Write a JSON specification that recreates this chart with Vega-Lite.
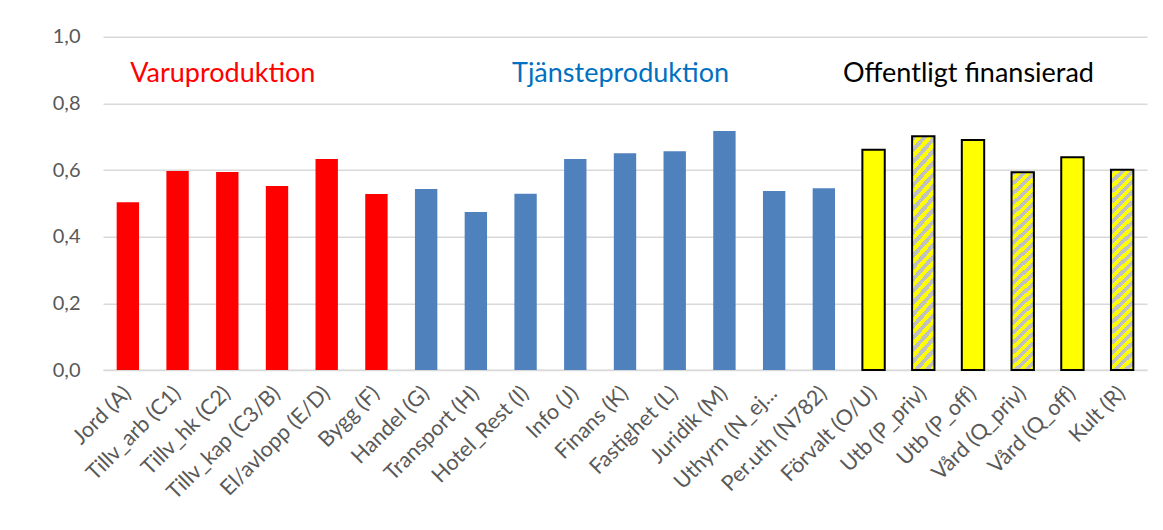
{
  "$schema": "https://vega.github.io/schema/vega-lite/v6.json",
  "autosize": {"type": "none"},
  "width": 1044,
  "height": 333.3,
  "padding": {"left": 103, "top": 36.7, "right": 16, "bottom": 160},
  "background": "white",
  "config": {
    "font": "Lato",
    "view": {"stroke": null}
  },
  "datasets": {
    "sektorer": [
      {"sektor": "Jord (A)", "kvot": 0.503, "grupp": "Varuproduktion", "drift": "blandad"},
      {"sektor": "Tillv_arb (C1)", "kvot": 0.597, "grupp": "Varuproduktion", "drift": "blandad"},
      {"sektor": "Tillv_hk (C2)", "kvot": 0.594, "grupp": "Varuproduktion", "drift": "blandad"},
      {"sektor": "Tillv_kap (C3/B)", "kvot": 0.552, "grupp": "Varuproduktion", "drift": "blandad"},
      {"sektor": "El/avlopp (E/D)", "kvot": 0.633, "grupp": "Varuproduktion", "drift": "blandad"},
      {"sektor": "Bygg (F)", "kvot": 0.528, "grupp": "Varuproduktion", "drift": "blandad"},
      {"sektor": "Handel (G)", "kvot": 0.543, "grupp": "Tjänsteproduktion", "drift": "blandad"},
      {"sektor": "Transport (H)", "kvot": 0.474, "grupp": "Tjänsteproduktion", "drift": "blandad"},
      {"sektor": "Hotel_Rest (I)", "kvot": 0.529, "grupp": "Tjänsteproduktion", "drift": "blandad"},
      {"sektor": "Info (J)", "kvot": 0.633, "grupp": "Tjänsteproduktion", "drift": "blandad"},
      {"sektor": "Finans (K)", "kvot": 0.650, "grupp": "Tjänsteproduktion", "drift": "blandad"},
      {"sektor": "Fastighet (L)", "kvot": 0.656, "grupp": "Tjänsteproduktion", "drift": "blandad"},
      {"sektor": "Juridik (M)", "kvot": 0.717, "grupp": "Tjänsteproduktion", "drift": "blandad"},
      {"sektor": "Uthyrn (N_ej...", "kvot": 0.537, "grupp": "Tjänsteproduktion", "drift": "blandad"},
      {"sektor": "Per.uth (N782)", "kvot": 0.545, "grupp": "Tjänsteproduktion", "drift": "blandad"},
      {"sektor": "Förvalt (O/U)", "kvot": 0.661, "grupp": "Offentligt finansierad", "drift": "offentlig"},
      {"sektor": "Utb (P_priv)", "kvot": 0.701, "grupp": "Offentligt finansierad", "drift": "privat"},
      {"sektor": "Utb (P_off)", "kvot": 0.690, "grupp": "Offentligt finansierad", "drift": "offentlig"},
      {"sektor": "Vård (Q_priv)", "kvot": 0.593, "grupp": "Offentligt finansierad", "drift": "privat"},
      {"sektor": "Vård (Q_off)", "kvot": 0.638, "grupp": "Offentligt finansierad", "drift": "offentlig"},
      {"sektor": "Kult (R)", "kvot": 0.601, "grupp": "Offentligt finansierad", "drift": "privat"}
    ],
    "rubriker": [
      {"grupp": "Varuproduktion", "ankare": "Tillv_hk (C2)"},
      {"grupp": "Tjänsteproduktion", "ankare": "Finans (K)"},
      {"grupp": "Offentligt finansierad", "ankare": "Utb (P_off)"}
    ]
  },
  "encoding": {
    "x": {
      "field": "sektor",
      "type": "nominal",
      "sort": null,
      "scale": {"paddingInner": 0.55, "paddingOuter": 0.275},
      "axis": {
        "title": null,
        "labelAngle": -45,
        "labelAlign": "right",
        "labelBaseline": "middle",
        "labelFontSize": 21.5,
        "labelColor": "#595959",
        "labelPadding": 20,
        "labelLimit": 300,
        "ticks": false,
        "domainColor": "#D9D9D9",
        "domainWidth": 1.5
      }
    }
  },
  "layer": [
    {
      "data": {"name": "sektorer"},
      "mark": {"type": "bar"},
      "encoding": {
        "y": {
          "field": "kvot",
          "type": "quantitative",
          "scale": {"domain": [0, 1], "nice": false},
          "axis": {
            "title": null,
            "values": [0, 0.2, 0.4, 0.6, 0.8, 1.0],
            "labelExpr": "replace(format(datum.value, '.1f'), '.', ',')",
            "labelFontSize": 20,
            "labelColor": "#595959",
            "labelPadding": 23,
            "ticks": false,
            "domain": false,
            "gridColor": "#D9D9D9",
            "gridWidth": 1.5
          }
        },
        "fill": {
          "condition": {
            "test": "datum.drift == 'privat'",
            "value": {
              "gradient": "linear",
              "x1": 0, "y1": 0, "x2": 0.116, "y2": 1.094,
              "stops": [
                {"offset": 0, "color": "#C0C0C0"}, {"offset": 0.02273, "color": "#C0C0C0"}, {"offset": 0.02273, "color": "#FFFF00"}, {"offset": 0.04545, "color": "#FFFF00"},
                {"offset": 0.04545, "color": "#C0C0C0"}, {"offset": 0.06818, "color": "#C0C0C0"}, {"offset": 0.06818, "color": "#FFFF00"}, {"offset": 0.09091, "color": "#FFFF00"},
                {"offset": 0.09091, "color": "#C0C0C0"}, {"offset": 0.11364, "color": "#C0C0C0"}, {"offset": 0.11364, "color": "#FFFF00"}, {"offset": 0.13636, "color": "#FFFF00"},
                {"offset": 0.13636, "color": "#C0C0C0"}, {"offset": 0.15909, "color": "#C0C0C0"}, {"offset": 0.15909, "color": "#FFFF00"}, {"offset": 0.18182, "color": "#FFFF00"},
                {"offset": 0.18182, "color": "#C0C0C0"}, {"offset": 0.20455, "color": "#C0C0C0"}, {"offset": 0.20455, "color": "#FFFF00"}, {"offset": 0.22727, "color": "#FFFF00"},
                {"offset": 0.22727, "color": "#C0C0C0"}, {"offset": 0.25, "color": "#C0C0C0"}, {"offset": 0.25, "color": "#FFFF00"}, {"offset": 0.27273, "color": "#FFFF00"},
                {"offset": 0.27273, "color": "#C0C0C0"}, {"offset": 0.29545, "color": "#C0C0C0"}, {"offset": 0.29545, "color": "#FFFF00"}, {"offset": 0.31818, "color": "#FFFF00"},
                {"offset": 0.31818, "color": "#C0C0C0"}, {"offset": 0.34091, "color": "#C0C0C0"}, {"offset": 0.34091, "color": "#FFFF00"}, {"offset": 0.36364, "color": "#FFFF00"},
                {"offset": 0.36364, "color": "#C0C0C0"}, {"offset": 0.38636, "color": "#C0C0C0"}, {"offset": 0.38636, "color": "#FFFF00"}, {"offset": 0.40909, "color": "#FFFF00"},
                {"offset": 0.40909, "color": "#C0C0C0"}, {"offset": 0.43182, "color": "#C0C0C0"}, {"offset": 0.43182, "color": "#FFFF00"}, {"offset": 0.45455, "color": "#FFFF00"},
                {"offset": 0.45455, "color": "#C0C0C0"}, {"offset": 0.47727, "color": "#C0C0C0"}, {"offset": 0.47727, "color": "#FFFF00"}, {"offset": 0.5, "color": "#FFFF00"},
                {"offset": 0.5, "color": "#C0C0C0"}, {"offset": 0.52273, "color": "#C0C0C0"}, {"offset": 0.52273, "color": "#FFFF00"}, {"offset": 0.54545, "color": "#FFFF00"},
                {"offset": 0.54545, "color": "#C0C0C0"}, {"offset": 0.56818, "color": "#C0C0C0"}, {"offset": 0.56818, "color": "#FFFF00"}, {"offset": 0.59091, "color": "#FFFF00"},
                {"offset": 0.59091, "color": "#C0C0C0"}, {"offset": 0.61364, "color": "#C0C0C0"}, {"offset": 0.61364, "color": "#FFFF00"}, {"offset": 0.63636, "color": "#FFFF00"},
                {"offset": 0.63636, "color": "#C0C0C0"}, {"offset": 0.65909, "color": "#C0C0C0"}, {"offset": 0.65909, "color": "#FFFF00"}, {"offset": 0.68182, "color": "#FFFF00"},
                {"offset": 0.68182, "color": "#C0C0C0"}, {"offset": 0.70455, "color": "#C0C0C0"}, {"offset": 0.70455, "color": "#FFFF00"}, {"offset": 0.72727, "color": "#FFFF00"},
                {"offset": 0.72727, "color": "#C0C0C0"}, {"offset": 0.75, "color": "#C0C0C0"}, {"offset": 0.75, "color": "#FFFF00"}, {"offset": 0.77273, "color": "#FFFF00"},
                {"offset": 0.77273, "color": "#C0C0C0"}, {"offset": 0.79545, "color": "#C0C0C0"}, {"offset": 0.79545, "color": "#FFFF00"}, {"offset": 0.81818, "color": "#FFFF00"},
                {"offset": 0.81818, "color": "#C0C0C0"}, {"offset": 0.84091, "color": "#C0C0C0"}, {"offset": 0.84091, "color": "#FFFF00"}, {"offset": 0.86364, "color": "#FFFF00"},
                {"offset": 0.86364, "color": "#C0C0C0"}, {"offset": 0.88636, "color": "#C0C0C0"}, {"offset": 0.88636, "color": "#FFFF00"}, {"offset": 0.90909, "color": "#FFFF00"},
                {"offset": 0.90909, "color": "#C0C0C0"}, {"offset": 0.93182, "color": "#C0C0C0"}, {"offset": 0.93182, "color": "#FFFF00"}, {"offset": 0.95455, "color": "#FFFF00"},
                {"offset": 0.95455, "color": "#C0C0C0"}, {"offset": 0.97727, "color": "#C0C0C0"}, {"offset": 0.97727, "color": "#FFFF00"}, {"offset": 1, "color": "#FFFF00"}
              ]
            }
          },
          "field": "grupp",
          "type": "nominal",
          "scale": {
            "domain": ["Varuproduktion", "Tjänsteproduktion", "Offentligt finansierad"],
            "range": ["#FF0000", "#4F81BD", "#FFFF00"]
          },
          "legend": null
        },
        "stroke": {
          "condition": {"test": "datum.grupp == 'Offentligt finansierad'", "value": "#000000"},
          "value": null
        },
        "strokeWidth": {"value": 2}
      }
    },
    {
      "data": {"name": "rubriker"},
      "mark": {"type": "text", "fontSize": 27, "align": "center", "baseline": "alphabetic"},
      "encoding": {
        "x": {"field": "ankare", "type": "nominal", "bandPosition": 0.3},
        "y": {"datum": 0.864, "type": "quantitative"},
        "text": {"field": "grupp"},
        "color": {
          "field": "grupp",
          "type": "nominal",
          "scale": {
            "domain": ["Varuproduktion", "Tjänsteproduktion", "Offentligt finansierad"],
            "range": ["#FF0000", "#0070C0", "#000000"]
          },
          "legend": null
        }
      }
    }
  ]
}
